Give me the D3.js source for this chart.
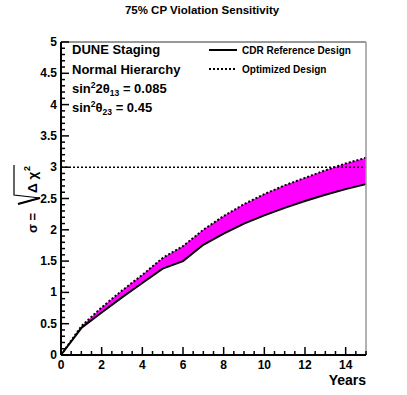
<!DOCTYPE html>
<html>
<head>
<meta charset="utf-8">
<script src="https://cdn.jsdelivr.net/npm/d3@7"></script>
<style>
  body { margin: 0; background: #fff; }
  svg { display: block; font-family: "Liberation Sans", Arial, Helvetica, sans-serif; font-weight: bold; }
</style>
</head>
<body>
<svg id="chart"></svg>
<script>
// data
const years = [0, 1, 2, 3, 4, 5, 6, 7, 8, 9, 10, 11, 12, 13, 14, 15];
const cdrSigma = [0, 0.43, 0.68, 0.92, 1.15, 1.38, 1.50, 1.76, 1.94, 2.10, 2.23, 2.35, 2.46, 2.56, 2.65, 2.73];
const optSigma = [0, 0.46, 0.76, 1.03, 1.28, 1.55, 1.74, 2.00, 2.22, 2.41, 2.57, 2.71, 2.83, 2.95, 3.06, 3.15];
const xTicks = [0, 2, 4, 6, 8, 10, 12, 14];
const yTicks = [0, 0.5, 1, 1.5, 2, 2.5, 3, 3.5, 4, 4.5, 5];
const thresholdSigma = 3;
const legendItems = ["CDR Reference Design", "Optimized Design"];
const infoLines = ["DUNE Staging", "Normal Hierarchy"];

const config = {
  containerWidth: 407,
  containerHeight: 395,
  margin: {top: 42, right: 41, bottom: 40, left: 61}
};
const width = config.containerWidth - config.margin.left - config.margin.right;
const height = config.containerHeight - config.margin.top - config.margin.bottom;

const svg = d3.select("#chart")
    .attr("width", config.containerWidth)
    .attr("height", config.containerHeight);

const chart = svg.append("g")
    .attr("transform", `translate(${config.margin.left},${config.margin.top})`);

const xScale = d3.scaleLinear().domain([0, 15]).range([0, width]);
const yScale = d3.scaleLinear().domain([0, 5]).range([height, 0]);

const rows = years.map((y, i) => ({year: y, cdr: cdrSigma[i], opt: optSigma[i]}));

// band between the two designs
chart.append("path")
    .datum(rows)
    .attr("fill", "#ff00ff")
    .attr("d", d3.area()
      .x(d => xScale(d.year))
      .y0(d => yScale(d.cdr))
      .y1(d => yScale(d.opt)));

chart.append("path")
    .datum(rows)
    .attr("fill", "none")
    .attr("stroke", "#000")
    .attr("stroke-width", 2)
    .attr("d", d3.line().x(d => xScale(d.year)).y(d => yScale(d.cdr)));

chart.append("path")
    .datum(rows)
    .attr("fill", "none")
    .attr("stroke", "#000")
    .attr("stroke-width", 2)
    .attr("stroke-dasharray", "2,2")
    .attr("d", d3.line().x(d => xScale(d.year)).y(d => yScale(d.opt)));

// 3 sigma reference line
chart.append("line")
    .attr("x1", 0).attr("x2", width)
    .attr("y1", yScale(thresholdSigma)).attr("y2", yScale(thresholdSigma))
    .attr("stroke", "#000")
    .attr("stroke-width", 1.5)
    .attr("stroke-dasharray", "2,2");

// frame top + right
chart.append("line").attr("x1", 0).attr("x2", width).attr("y1", 0).attr("y2", 0)
    .attr("stroke", "#333").attr("stroke-width", 1);
chart.append("line").attr("x1", width).attr("x2", width).attr("y1", 0).attr("y2", height)
    .attr("stroke", "#999").attr("stroke-width", 1.5);

// axes, ROOT style ticks pointing inward
const xAxisG = chart.append("g").attr("transform", `translate(0,${height})`);
xAxisG.selectAll(".minor")
    .data(d3.range(0, 15.01, 0.5))
  .join("line")
    .attr("x1", d => xScale(d)).attr("x2", d => xScale(d))
    .attr("y1", 0).attr("y2", d => d % 2 === 0 ? -8 : -4)
    .attr("stroke", "#000").attr("stroke-width", 1.5);
xAxisG.append("line").attr("x1", 0).attr("x2", width)
    .attr("stroke", "#000").attr("stroke-width", 2);
xAxisG.selectAll(".lbl")
    .data(xTicks)
  .join("text")
    .attr("x", d => xScale(d))
    .attr("y", 14)
    .attr("text-anchor", "middle")
    .attr("font-size", 12)
    .text(d => d);

const yAxisG = chart.append("g");
yAxisG.selectAll(".minor")
    .data(d3.range(0, 50.5, 1).map(d => d / 10))
  .join("line")
    .attr("y1", d => yScale(d)).attr("y2", d => yScale(d))
    .attr("x1", 0).attr("x2", (d, i) => i % 5 === 0 ? 8 : 4)
    .attr("stroke", "#000").attr("stroke-width", 1.5);
yAxisG.append("line").attr("y1", 0).attr("y2", height)
    .attr("stroke", "#000").attr("stroke-width", 2);
yAxisG.selectAll(".lbl")
    .data(yTicks)
  .join("text")
    .attr("x", -4)
    .attr("y", d => yScale(d) + 4)
    .attr("text-anchor", "end")
    .attr("font-size", 12)
    .text(d => d);

// title + axis titles
svg.append("text")
    .attr("x", 202).attr("y", 14)
    .attr("text-anchor", "middle")
    .attr("font-size", 11.5)
    .text("75% CP Violation Sensitivity");

svg.append("text")
    .attr("x", 366).attr("y", 385)
    .attr("text-anchor", "end")
    .attr("font-size", 14)
    .text("Years");

const yTitle = svg.append("g").attr("transform", "translate(37,200) rotate(-90)");
yTitle.append("text")
    .attr("x", -33).attr("y", 0)
    .attr("font-size", 13)
    .text("σ =");
yTitle.append("text")
    .attr("x", 7).attr("y", 0)
    .attr("font-size", 13.5)
    .text("Δ χ");
yTitle.append("text")
    .attr("x", 29).attr("y", -7)
    .attr("font-size", 9)
    .text("2");
// radical sign drawn by hand like ROOT's #sqrt
yTitle.append("path")
    .attr("d", "M-4,-19 L2,3 L5,-23 L35,-23")
    .attr("fill", "none")
    .attr("stroke", "#000")
    .attr("stroke-width", 1.2);
yTitle.append("path")
    .attr("d", "M-4,-19 L2,3")
    .attr("stroke", "#000")
    .attr("stroke-width", 2.2);

// info text top-left
const info = chart.append("g").attr("transform", "translate(11,0)");
info.selectAll(".info")
    .data(infoLines)
  .join("text")
    .attr("y", (d, i) => 12 + i * 19.5)
    .attr("font-size", 13)
    .text(d => d);

const s13 = info.append("text").attr("y", 51).attr("font-size", 13);
s13.append("tspan").text("sin");
s13.append("tspan").attr("font-size", 8.5).attr("dy", -5).text("2");
s13.append("tspan").attr("dy", 5).text("2θ");
s13.append("tspan").attr("font-size", 8.5).attr("dy", 3).text("13");
s13.append("tspan").attr("dy", -3).text(" = 0.085");

const s23 = info.append("text").attr("y", 70).attr("font-size", 13);
s23.append("tspan").text("sin");
s23.append("tspan").attr("font-size", 8.5).attr("dy", -5).text("2");
s23.append("tspan").attr("dy", 5).text("θ");
s23.append("tspan").attr("font-size", 8.5).attr("dy", 3).text("23");
s23.append("tspan").attr("dy", -3).text(" = 0.45");

// legend
const legend = svg.append("g").attr("transform", "translate(209,50)");
const legendRows = legend.selectAll(".item")
    .data(legendItems)
  .join("g")
    .attr("transform", (d, i) => `translate(0,${i * 19})`);
legendRows.append("line")
    .attr("x1", 0).attr("x2", 28)
    .attr("stroke", "#000")
    .attr("stroke-width", 2)
    .attr("stroke-dasharray", (d, i) => i === 0 ? null : "2,2");
legendRows.append("text")
    .attr("x", 33).attr("y", 4)
    .attr("font-size", 10)
    .text(d => d);
</script>
</body>
</html>
